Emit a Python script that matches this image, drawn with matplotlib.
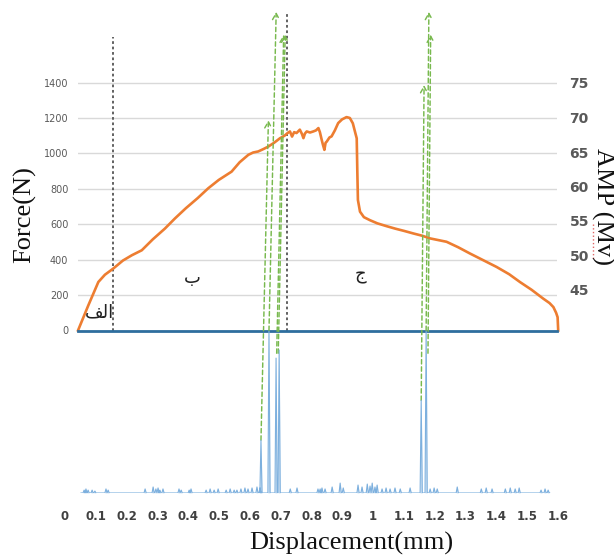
import matplotlib
matplotlib.use("Agg")
import matplotlib.pyplot as plt
from matplotlib.lines import Line2D
import numpy as np

# ---------------- data ----------------
disp = [0, 0.034, 0.068, 0.09, 0.118, 0.15, 0.18, 0.213, 0.25, 0.29, 0.324, 0.36, 0.40, 0.435,
        0.47, 0.513, 0.54, 0.569, 0.585, 0.602, 0.62, 0.636, 0.655, 0.675, 0.69, 0.70, 0.708,
        0.715, 0.722, 0.730, 0.741, 0.748, 0.753, 0.758, 0.764, 0.775, 0.786, 0.795, 0.803,
        0.808, 0.814, 0.818, 0.823, 0.827, 0.831, 0.84, 0.847, 0.858, 0.869, 0.882, 0.897,
        0.908, 0.918, 0.925, 0.931, 0.933, 0.935, 0.942, 0.955, 0.975, 1.0, 1.031, 1.06, 1.09,
        1.12, 1.15, 1.176, 1.205, 1.231, 1.27, 1.309, 1.35, 1.398, 1.44, 1.476, 1.515, 1.554,
        1.575, 1.588, 1.597, 1.602, 1.604]
force = [0, 140, 274, 315, 350, 395, 425, 453, 515, 575, 633, 690, 748, 803, 850, 897, 950, 992,
         1005, 1011, 1025, 1039, 1060, 1086, 1100, 1115, 1124, 1095, 1120, 1115, 1134, 1110,
         1086, 1112, 1124, 1118, 1124, 1130, 1143, 1120, 1077, 1050, 1020, 1060, 1067, 1090,
         1096, 1130, 1171, 1192, 1205, 1200, 1170, 1124, 1085, 900, 737, 671, 640, 623, 605,
         589, 575, 562, 548, 535, 520, 510, 501, 470, 435, 400, 359, 318, 274, 230, 180, 155,
         132, 100, 75, 0]

# acoustic emission hits (displacement, relative amplitude)
ae_disp = [0.062, 0.068, 0.075, 0.088, 0.097, 0.133, 0.140, 0.260, 0.286, 0.295, 0.302, 0.308,
           0.318, 0.370, 0.377, 0.403, 0.409, 0.458, 0.471, 0.484, 0.497, 0.523, 0.536, 0.549,
           0.558, 0.571, 0.584, 0.594, 0.607, 0.623, 0.633, 0.636, 0.662, 0.685, 0.695, 0.731,
           0.753, 0.821, 0.828, 0.834, 0.844, 0.867, 0.893, 0.903, 0.951, 0.964, 0.981, 0.990,
           0.997, 1.006, 1.013, 1.029, 1.042, 1.055, 1.071, 1.088, 1.120, 1.156, 1.172, 1.185,
           1.198, 1.208, 1.273, 1.351, 1.367, 1.386, 1.429, 1.445, 1.461, 1.474, 1.545, 1.558,
           1.568]
ae_amp = [1.8, 2.5, 1.8, 1.8, 1.2, 2.5, 1.8, 2.5, 3.7, 2.5, 3.1, 1.8, 2.5, 2.5, 1.8, 1.8, 2.5,
          1.8, 2.5, 1.8, 2.5, 1.8, 2.5, 1.8, 1.8, 2.5, 3.1, 2.5, 3.1, 3.7, 3.1, 32.5, 100, 83,
          88, 2.5, 3.1, 2.5, 2.5, 3.1, 2.5, 3.7, 6.1, 3.1, 4.9, 3.7, 5.5, 4.3, 6.1, 3.7, 4.9, 2.5,
          3.1, 2.5, 3.1, 2.5, 3.1, 57, 100, 2.5, 3.1, 2.5, 3.7, 2.5, 3.1, 2.5, 2.5, 3.1, 2.5,
          3.1, 1.8, 2.5, 1.8]

# major events: displacement, AE amplitude at start, AMP (mV) at arrow tip
arrow_disp = [0.636, 0.662, 0.687, 0.692, 1.156, 1.172, 1.178]
arrow_ae = [32.5, 100, 86, 86, 57, 100, 86]
arrow_amp = [69.6, 85.3, 82.0, 82.0, 74.7, 85.3, 82.0]

stage_bounds = [0.117, 0.698]
stage_tops = [1657, 1798]
stage_names = ["\uFED2\uFEDF\uFE8D", "ب", "ج"]   # الف , ب , ج
stage_label_x = [0.072, 0.382, 0.945]
stage_label_y = [104, 297, 314]

force_ticks = list(range(0, 1401, 200))
amp_ticks = [45, 50, 55, 60, 65, 70, 75]
x_ticks = [round(0.1 * i, 1) for i in range(17)]

# ---------------- layout ----------------
W, H = 614, 557
fig = plt.figure(figsize=(W / 100, H / 100), dpi=100)
fig.patch.set_facecolor("white")


def fx(px):
    return px / W


def fy(py):
    return 1 - py / H


px_per_N = 0.1771
y0 = 330.5
ax = fig.add_axes([fx(78), fy(y0), fx(557) - fx(78), fy(3) - fy(y0)])
ax.set_xlim(0, 1.6)
ax.set_ylim(0, (y0 - 3) / px_per_N)
ax.patch.set_alpha(0)
for s in ax.spines.values():
    s.set_visible(False)
ax.set_xticks([])
ax.set_yticks(force_ticks)
ax.tick_params(axis="y", length=0, pad=7, labelsize=7, labelcolor="#595959")
ax.grid(axis="y", color="#d9d9d9", lw=1)
ax.set_axisbelow(True)

ax.plot(disp, force, color="#ED7D31", lw=1.9, zorder=3, clip_on=False)
ax.axhline(0, color="#2E6E9E", lw=2, zorder=4, clip_on=False)
ax.vlines(stage_bounds, 0, stage_tops, colors="#555555", linestyles=(0, (1.5, 1.5)), lw=1.3,
          zorder=2)
for name, sx, sy in zip(stage_names, stage_label_x, stage_label_y):
    ax.text(sx, sy, name, fontsize=13, ha="center", va="center", color="#222222",
            family=["DejaVu Sans"])

# right AMP axis
ax2 = ax.twinx()
amp_px = 6.9
amp_bottom = 75 - (y0 - 83) / amp_px
amp_top = 75 + (83 - 3) / amp_px
ax2.set_ylim(amp_bottom, amp_top)
ax2.set_yticks(amp_ticks)
for s in ax2.spines.values():
    s.set_visible(False)
ax2.tick_params(axis="y", length=0, pad=9, labelsize=10, labelcolor="#595959")
for lab in ax2.get_yticklabels():
    lab.set_fontweight("bold")

# AE axes
ax_ae = fig.add_axes([fx(65), fy(493), fx(558) - fx(65), fy(y0) - fy(493)])
ax_ae.set_xlim(0, 1.6)
ax_ae.set_ylim(0, 100)
ax_ae.patch.set_alpha(0)
for s in ax_ae.spines.values():
    s.set_visible(False)
ax_ae.set_yticks([])
ax_ae.set_xticks(x_ticks)
ax_ae.set_xticklabels([f"{t:g}" for t in x_ticks])
ax_ae.tick_params(axis="x", length=0, pad=12, labelsize=8.5, labelcolor="#404040")
for lab in ax_ae.get_xticklabels():
    lab.set_fontweight("bold")

w = 0.0035
xs, ys = [ae_disp[0] - 0.01], [0]
for d, a in sorted(zip(ae_disp, ae_amp)):
    xs += [d - w, d, d + w]
    ys += [0, a, 0]
xs.append(ae_disp[-1] + 0.005)
ys.append(0)
ax_ae.fill_between(xs, ys, 0, color="#9DC3E6", alpha=0.45, lw=0)
ax_ae.plot(xs, ys, color="#7DB0DE", lw=0.8)

# green event arrows
for d, a, m in zip(arrow_disp, arrow_ae, arrow_amp):
    ax2.annotate("", xy=(d, m), xycoords="data", xytext=(d, a), textcoords=ax_ae.transData,
                 arrowprops=dict(arrowstyle="->,head_length=0.45,head_width=0.25",
                                 color="#78B94E", lw=1.05, linestyle=(0, (3, 2)),
                                 shrinkA=0, shrinkB=0),
                 annotation_clip=False, zorder=6)

# axis titles
serif = ["Liberation Serif", "DejaVu Serif"]
fig.text(fx(25), fy(215), "Force(N)", rotation=90, ha="center", va="center", fontsize=19,
         family=serif, color="#111111")
fig.text(fx(603), fy(206), "AMP (Mv)", rotation=-90, ha="center", va="center", fontsize=19,
         family=serif, color="#111111")
fig.add_artist(Line2D([fx(593), fx(593)], [fy(224), fy(259)], color="#e06666", lw=1,
                      linestyle=":"))
fig.text(fx(351), fy(543), "Displacement(mm)", ha="center", va="center", fontsize=19,
         family=serif, color="#111111")

fig.savefig("out.png", dpi=100, facecolor="white")
